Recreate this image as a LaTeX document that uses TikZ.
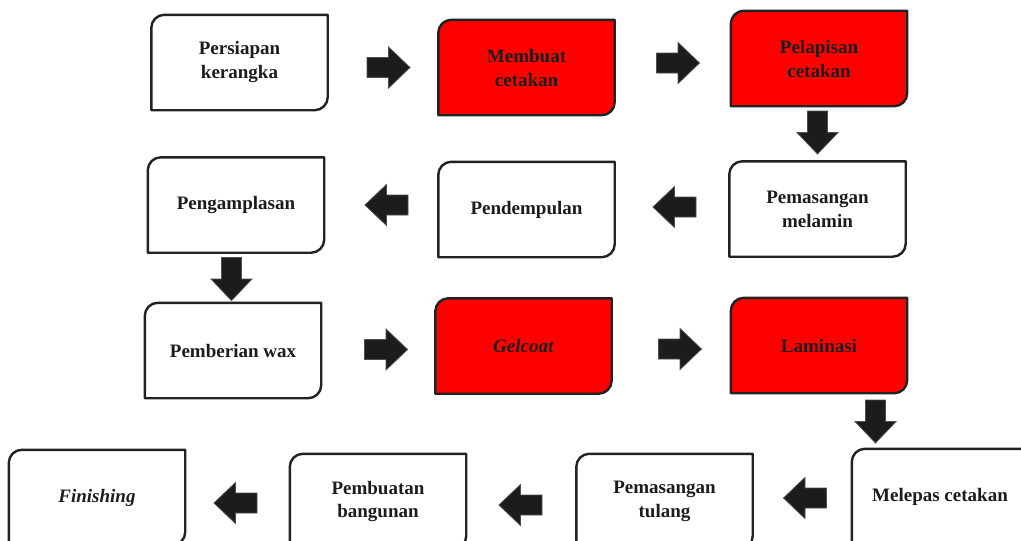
\documentclass[tikz,border=0pt]{standalone}
\usepackage{fontspec}
\setmainfont{Liberation Serif}
\usetikzlibrary{backgrounds}
\definecolor{boxred}{HTML}{FF0000}
\definecolor{inkdark}{HTML}{1C1C1C}
\definecolor{edgedark}{HTML}{222222}
\tikzset{
  boxtext/.style={inner sep=0pt, minimum width=176pt, minimum height=95pt, align=center,
    text=inkdark, font=\fontsize{19}{24}\selectfont\bfseries},
  boxline/.style={draw=edgedark, line width=2.4pt, line join=round},
  blockarrow/.style={fill=inkdark, draw=edgedark!80, line width=0.8pt, line join=miter},
}
% name, center x, center y (pixels, down), fill, text
\newcommand\flowbox[5]{%
  \node[boxtext] (#1) at (#2pt,-#3pt) {#5};
  \begin{pgfonlayer}{background}
  \draw[boxline, fill=#4] ([yshift=-13pt]#1.north west) arc(180:90:13pt) -- (#1.north east)
     -- ([yshift=13pt]#1.south east) arc(0:-90:13pt) -- (#1.south west) -- cycle;
  \end{pgfonlayer}}
% center x, center y, rotation (0 = right)
\newcommand\flowarrow[3]{%
  \draw[blockarrow, shift={(#1pt,-#2pt)}, rotate=#3]
    (-21.5pt,-10pt) -- (0pt,-10pt) -- (0pt,-20.5pt) -- (21.5pt,0pt)
    -- (0pt,20.5pt) -- (0pt,10pt) -- (-21.5pt,10pt) -- cycle;}
\begin{document}
\begin{tikzpicture}
\useasboundingbox (0,0) rectangle (1021pt,-541pt);
\clip (0,0) rectangle (1021pt,-541pt);
% row 1
\flowbox{b1}{239.5}{62.5}{white}{Persiapan\\kerangka}
\flowbox{b2}{526.5}{67.5}{boxred}{Membuat\\cetakan}
\flowbox{b3}{819}{58.5}{boxred}{Pelapisan\\cetakan}
% row 2
\flowbox{b4}{817.5}{209}{white}{Pemasangan\\melamin}
\flowbox{b5}{526.5}{209.5}{white}{Pendempulan}
\flowbox{b6}{236}{205}{white}{Pengamplasan}
% row 3
\flowbox{b7}{233}{350.5}{white}{Pemberian wax}
\flowbox{b8}{523.5}{346}{boxred}{\textit{Gelcoat}}
\flowbox{b9}{819}{345.5}{boxred}{Laminasi}
% row 4
\flowbox{b10}{940}{496.5}{white}{Melepas cetakan}
\flowbox{b11}{664.5}{501.5}{white}{Pemasangan\\tulang}
\flowbox{b12}{378}{501.5}{white}{Pembuatan\\bangunan}
\flowbox{b13}{97}{497.5}{white}{\textit{Finishing}}
% arrows
\flowarrow{388.5}{67.5}{0}
\flowarrow{678}{63}{0}
\flowarrow{817.5}{132.5}{-90}
\flowarrow{674.5}{207}{180}
\flowarrow{386.5}{205}{180}
\flowarrow{231.5}{279}{-90}
\flowarrow{386}{349.5}{0}
\flowarrow{680}{349}{0}
\flowarrow{875.5}{421.5}{-90}
\flowarrow{805}{498}{180}
\flowarrow{520.5}{505}{180}
\flowarrow{235.5}{503}{180}
\end{tikzpicture}
\end{document}
